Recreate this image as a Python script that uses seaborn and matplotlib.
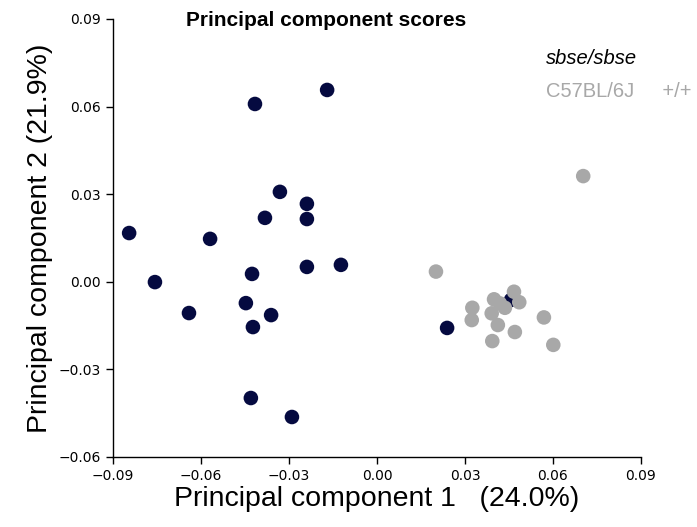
import numpy as np
import pandas as pd
import matplotlib
matplotlib.use("Agg")
import matplotlib.pyplot as plt
import seaborn as sns
from matplotlib.ticker import FuncFormatter

# PC scores
mut_pc1 = [-0.0845, -0.0757, -0.0641, -0.0569, -0.0416, -0.0170, -0.0331, -0.0382,
           -0.0239, -0.0239, -0.0239, -0.0123, -0.0426, -0.0447, -0.0361, -0.0423,
           -0.0430, -0.0290, 0.0239, 0.0457]
mut_pc2 = [0.0167, -0.0001, -0.0107, 0.0147, 0.0609, 0.0657, 0.0308, 0.0219,
           0.0267, 0.0215, 0.0051, 0.0058, 0.0027, -0.0073, -0.0114, -0.0155,
           -0.0398, -0.0463, -0.0158, -0.0062]
wt_pc1 = [0.0201, 0.0467, 0.0399, 0.0419, 0.0436, 0.0485, 0.0325, 0.0323,
          0.0391, 0.0412, 0.0470, 0.0393, 0.0569, 0.0601, 0.0703]
wt_pc2 = [0.0035, -0.0034, -0.0060, -0.0074, -0.0089, -0.0070, -0.0089, -0.0131,
          -0.0108, -0.0148, -0.0172, -0.0203, -0.0122, -0.0216, 0.0362]

groups = ["sbse/sbse", "C57BL/6J     +/+"]
ticks = [-0.09, -0.06, -0.03, 0.00, 0.03, 0.06, 0.09]

df = pd.DataFrame({
    "pc1": mut_pc1 + wt_pc1,
    "pc2": mut_pc2 + wt_pc2,
    "group": [groups[0]] * len(mut_pc1) + [groups[1]] * len(wt_pc1),
})
palette = {groups[0]: "#050a40", groups[1]: "#a8a8a8"}

sns.set_style("ticks", {"text.color": "black", "axes.labelcolor": "black",
                        "xtick.color": "black", "ytick.color": "black",
                        "axes.edgecolor": "black"})
fig, ax = plt.subplots(figsize=(6.97, 5.27), dpi=100)
fig.subplots_adjust(left=113 / 697, right=641 / 697, top=1 - 19 / 527, bottom=1 - 457 / 527)

sns.scatterplot(data=df, x="pc1", y="pc2", hue="group", palette=palette,
                s=110, edgecolor="none", linewidth=0, ax=ax)

ax.set_xlim(-0.09, 0.09)
ax.set_ylim(-0.06, 0.09)
ax.set_xticks(ticks)
ax.set_yticks(ticks[1:])
fmt = FuncFormatter(lambda v, p: f"{v:.2f}".replace("-", "\u2212"))
ax.xaxis.set_major_formatter(fmt)
ax.yaxis.set_major_formatter(fmt)
ax.tick_params(axis="both", direction="out", length=5, width=1, labelsize=10)
for lab in ax.get_xticklabels() + ax.get_yticklabels():
    lab.set_fontfamily("DejaVu Sans")
sns.despine(ax=ax)
for sp in ["left", "bottom"]:
    ax.spines[sp].set_linewidth(1)

ax.set_xlabel("Principal component 1   (24.0%)", fontsize=20.5, family="Liberation Sans", labelpad=2)
ax.set_ylabel("Principal component 2 (21.9%)", fontsize=20.5, family="Liberation Sans", labelpad=4)
ax.set_title("Principal component scores", fontsize=15, fontweight="bold",
             family="Liberation Sans", pad=0, x=0.404, y=0.983)

leg = ax.legend(loc="upper left", bbox_to_anchor=(0.82, 0.931), frameon=False,
                handlelength=0, handletextpad=0, markerscale=0, borderpad=0, borderaxespad=0,
                prop={"family": "Liberation Sans", "size": 14.5}, labelspacing=0.7)
for h in leg.legend_handles:
    h.set_visible(False)
txts = leg.get_texts()
txts[0].set_color("black")
txts[0].set_fontstyle("italic")
txts[1].set_color("#a8a8a8")

fig.savefig("out.png", dpi=100)
